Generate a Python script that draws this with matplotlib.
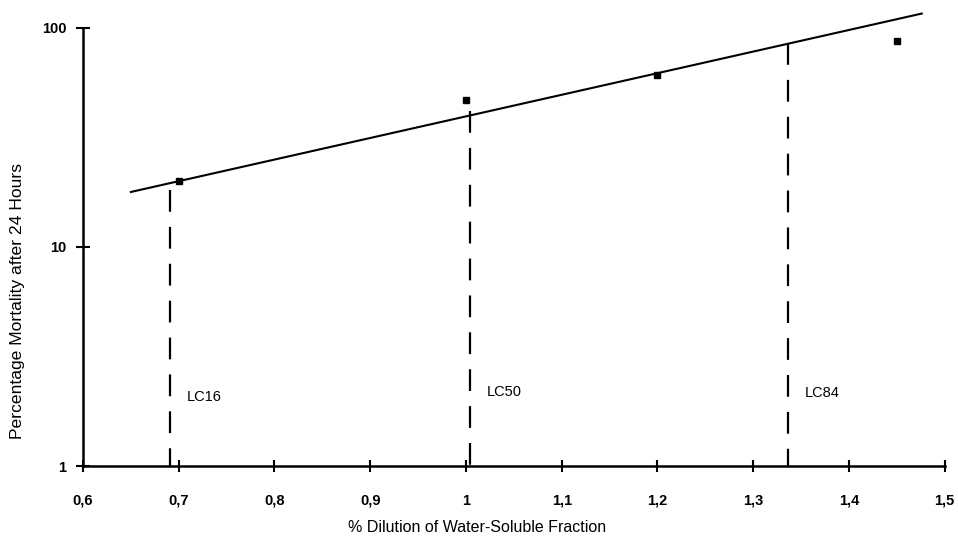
import matplotlib.pyplot as plt
from matplotlib.ticker import FixedLocator, FixedFormatter, NullLocator

# observed mortality
dilution = [0.7, 1.0, 1.2, 1.45]
mortality = [20, 47, 61, 87]

# fitted regression line (end points)
fit_x = [0.65, 1.476]
fit_y = [17.8, 116]

# lethal concentration markers
lc_names = ["LC16", "LC50", "LC84"]
lc_x = [0.691, 1.004, 1.336]
lc_top = [18.2, 41.5, 85]
lc_label_y = [2.07, 2.18, 2.15]

x_ticks = [0.6, 0.7, 0.8, 0.9, 1.0, 1.1, 1.2, 1.3, 1.4, 1.5]
x_tick_labels = ["0,6", "0,7", "0,8", "0,9", "1", "1,1", "1,2", "1,3", "1,4", "1,5"]
y_ticks = [1, 10, 100]
y_tick_labels = ["1", "10", "100"]

plt.rcParams['font.family'] = ['Liberation Sans', 'DejaVu Sans']

fig = plt.figure(figsize=(9.58, 5.41), dpi=100)
ax = fig.add_axes([83 / 958, 1 - 466 / 541, (944.7 - 83) / 958, (466 - 27.7) / 541])

ax.set_yscale('log')
ax.set_xlim(0.6, 1.5)
ax.set_ylim(1, 100)

ax.plot(fit_x, fit_y, color='black', lw=1.5, clip_on=False)
ax.plot(dilution, mortality, 's', color='black', ms=4, clip_on=False)

for name, x, top, ly in zip(lc_names, lc_x, lc_top, lc_label_y):
    # drawn top-down so the dash pattern starts at the fit line
    ax.plot([x, x], [top, 1], color='black', lw=1.6, dashes=(9.8, 6.8))
    ax.annotate(name, (x, ly), xytext=(12, 0), textcoords='offset points',
                va='center', ha='left', fontsize=10.5)

ax.spines['top'].set_visible(False)
ax.spines['right'].set_visible(False)
ax.spines['left'].set_linewidth(1.8)
ax.spines['bottom'].set_linewidth(1.8)

ax.xaxis.set_major_locator(FixedLocator(x_ticks))
ax.xaxis.set_major_formatter(FixedFormatter(x_tick_labels))
ax.yaxis.set_major_locator(FixedLocator(y_ticks))
ax.yaxis.set_major_formatter(FixedFormatter(y_tick_labels))
ax.yaxis.set_minor_locator(NullLocator())

ax.tick_params(axis='x', direction='inout', length=8, width=1.5, pad=16, labelsize=10.5)
ax.tick_params(axis='y', direction='inout', length=10, width=1.5, pad=7, labelsize=10.5)
for lbl in ax.get_xticklabels() + ax.get_yticklabels():
    lbl.set_fontweight('bold')

ax.set_xlabel("% Dilution of Water-Soluble Fraction", fontsize=11.5)
ax.xaxis.set_label_coords((477 - 83) / 862, -(527 - 466) / 438.3)
ax.xaxis.label.set_va('center')
ax.set_ylabel("Percentage Mortality after 24 Hours", fontsize=12.6)
ax.yaxis.set_label_coords(-(83 - 17) / 862, (466 - 301) / 438.3)
ax.yaxis.label.set_va('center')

fig.savefig("out.png", dpi=100)
